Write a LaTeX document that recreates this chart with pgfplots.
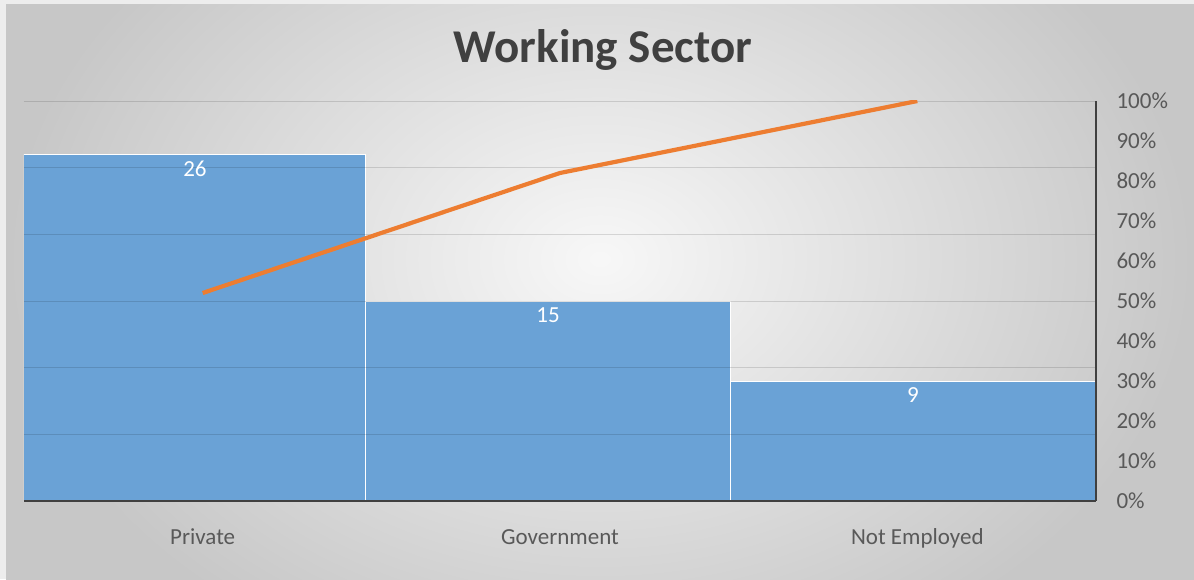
\documentclass[border=0pt]{standalone}
\usepackage{pgfplots}
\pgfplotsset{compat=1.18}
\usepackage{fontspec}
\setmainfont{Carlito}
\definecolor{barblue}{RGB}{106,162,214}
\definecolor{lineorange}{RGB}{237,125,49}
\definecolor{txt}{RGB}{89,89,89}
\definecolor{axdark}{RGB}{64,64,64}
\begin{document}
\begin{tikzpicture}[x=1pt,y=1pt]
\fill[white!93!black] (0,0) rectangle (1194,579);
\begin{scope}
\clip (6,0) rectangle (1194,574);
\shade[inner color=white!97!black, outer color=black!22] (6,-120) rectangle (1194,760);
\end{scope}
\node[font=\fontsize{47}{52}\selectfont\bfseries, text=black!75] at (603,529) {Working Sector};
\begin{axis}[
  at={(24pt,78pt)}, anchor=south west, scale only axis,
  width=1072pt, height=400pt,
  xmin=-0.5, xmax=2.5, ymin=0, ymax=30,
  axis on top,
  axis x line*=bottom, axis y line*=left,
  x axis line style={-, draw=axdark, line width=1.6pt},
  y axis line style={draw=none},
  xtick={0,1,2}, xticklabels={Private,Government,Not Employed},
  ytick={0,5,10,15,20,25,30}, yticklabels={},
  major tick length=0pt,
  ymajorgrids, grid style={black, opacity=0.13, line width=0.8pt},
  tick label style={font=\fontsize{23}{26}\selectfont, text=txt},
  xticklabel style={anchor=base, yshift=-43pt},
  /pgf/number format/assume math mode=true,
  ybar, bar shift=0pt,
  nodes near coords,
  every node near coord/.append style={anchor=north, yshift=-3pt, text=white, font=\fontsize{23}{26}\selectfont},
]
\addplot[fill=barblue, draw=white, line width=1pt, bar width=0.957] coordinates {(-0.0215,26)};
\addplot[fill=barblue, draw=white, line width=1pt, bar width=1.019] coordinates {(0.9665,15)};
\addplot[fill=barblue, draw=white, line width=1pt, bar width=1.024] coordinates {(1.988,9)};
\end{axis}
\begin{axis}[
  at={(24pt,78pt)}, anchor=south west, scale only axis,
  width=1072pt, height=400pt,
  xmin=-0.5, xmax=2.5, ymin=0, ymax=1,
  axis x line=none, axis y line*=right,
  y axis line style={-, draw=axdark, line width=1.6pt},
  ytick={0,0.1,0.2,0.3,0.4,0.5,0.6,0.7,0.8,0.9,1},
  yticklabels={0\%,10\%,20\%,30\%,40\%,50\%,60\%,70\%,80\%,90\%,100\%},
  major tick length=0pt,
  tick label style={font=\fontsize{23}{26}\selectfont, text=txt},
  yticklabel style={xshift=17pt},
]
\addplot[lineorange, line width=4.2pt, mark=none] coordinates {(0,0.52) (1,0.82) (2,1.00)};
\end{axis}
\end{tikzpicture}
\end{document}
